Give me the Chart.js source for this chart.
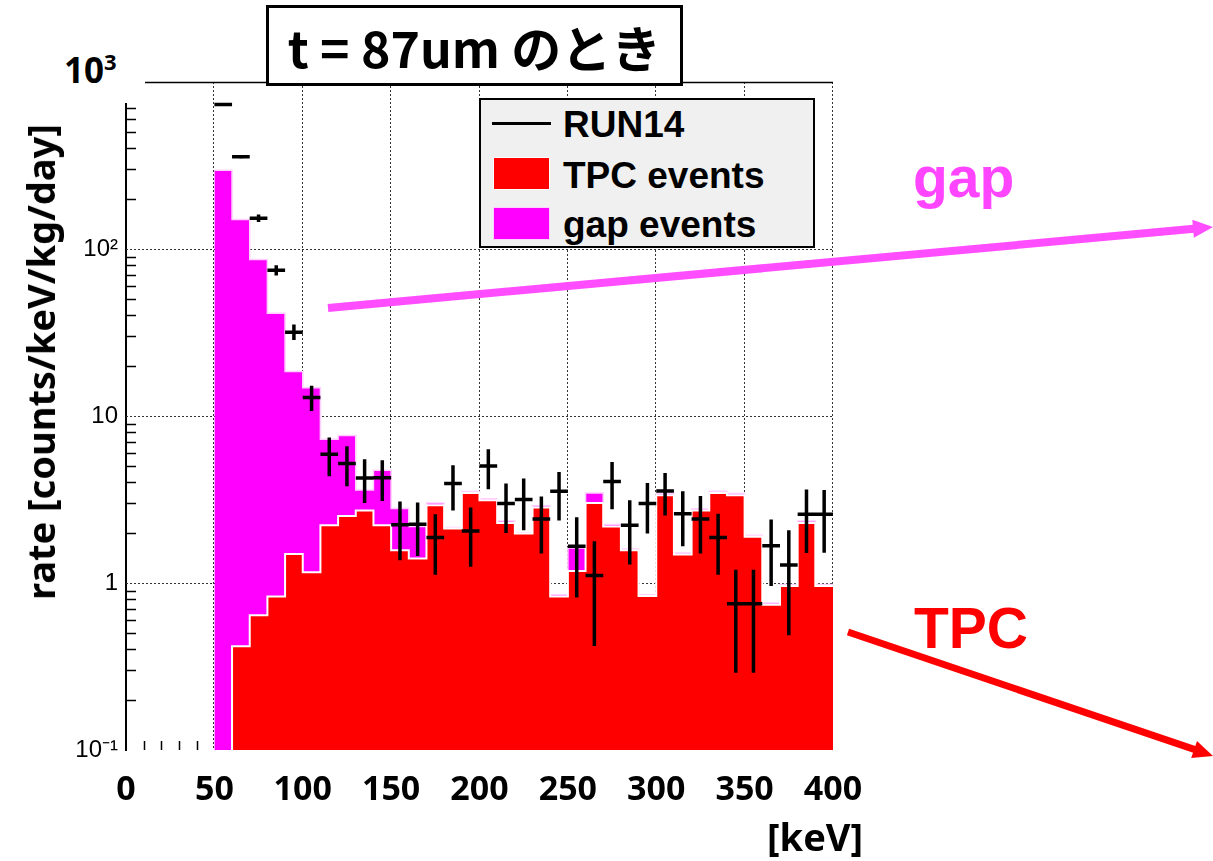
<!DOCTYPE html>
<html>
<head>
<meta charset="utf-8">
<script src="https://cdn.jsdelivr.net/npm/chart.js@4.4.1/dist/chart.umd.min.js"></script>
<style>
html,body{margin:0;padding:0;background:#fff;}
#wrap{position:relative;width:1213px;height:861px;overflow:hidden;background:#fff;}
#c{position:absolute;left:0;top:0;}
.t{position:absolute;white-space:nowrap;line-height:1;}
#title{position:absolute;left:266px;top:5px;width:417px;height:81px;box-sizing:border-box;border:3px solid #000;background:#fff;
  display:flex;align-items:center;justify-content:center;font-family:"Noto Sans CJK JP";font-weight:bold;font-size:50px;color:#000;white-space:nowrap;}
#ymaxbox{position:absolute;left:55px;top:44px;width:90px;height:59px;background:#fff;}
#ymax{left:64px;top:52px;font-family:"Noto Sans";font-weight:bold;font-size:35px;color:#000;}
#ymax sup{font-size:22px;vertical-align:0;position:relative;top:-13px;}
#legend{position:absolute;left:479px;top:98px;width:336px;height:150px;box-sizing:border-box;border:2px solid #000;background:#f0f0f0;}
.lt{position:absolute;left:563px;font-family:"Liberation Sans";font-weight:bold;font-size:37px;color:#000;white-space:nowrap;line-height:1;}
.sw{position:absolute;left:493px;width:57px;height:33px;box-sizing:border-box;}
#ytitle{position:absolute;left:40px;top:362px;transform:translate(-50%,-50%) rotate(-90deg);font-family:"Noto Sans";font-weight:bold;font-size:38px;color:#000;white-space:nowrap;line-height:1;}
#xunit{left:767px;top:817px;font-family:"Noto Sans";font-weight:bold;font-size:38px;color:#000;}
#gapLbl{left:913px;top:149px;font-family:"Liberation Sans";font-weight:bold;font-size:57px;color:#ff45ff;}
#tpcLbl{left:914px;top:600px;font-family:"Liberation Sans";font-weight:bold;font-size:57px;color:#ff0000;}
#arrows{position:absolute;left:0;top:0;}
</style>
</head>
<body>
<div id="wrap">
<canvas id="c" width="1213" height="861"></canvas>
<div id="ymaxbox"></div>
<div id="ymax" class="t">10<sup>3</sup></div>
<div id="title">t = 87um のとき</div>
<div id="legend"></div>
<div style="position:absolute;left:492px;top:121.5px;width:59px;height:3.5px;background:#000;"></div>
<div class="lt" style="top:106px;">RUN14</div>
<div class="sw" style="top:157px;background:#ff0000;border:1px solid #fff;"></div>
<div class="lt" style="top:157px;">TPC events</div>
<div class="sw" style="top:207px;background:#ff00ff;border:1px solid #ffd0ff;"></div>
<div class="lt" style="top:206px;">gap events</div>
<div id="ytitle">rate [counts/keV/kg/day]</div>
<div id="xunit" class="t">[keV]</div>
<div id="gapLbl" class="t">gap</div>
<div id="tpcLbl" class="t">TPC</div>
<svg id="arrows" width="1213" height="861">
  <line x1="328" y1="308" x2="1194" y2="228.8" stroke="#ff4dff" stroke-width="8"/>
  <polygon points="1213,227 1193.9,237.8 1192.3,219.8" fill="#ff4dff"/>
  <line x1="848" y1="632" x2="1195" y2="749.6" stroke="#ff0000" stroke-width="7"/>
  <polygon points="1213,756 1191.2,758.1 1197.0,741.1" fill="#ff0000"/>
</svg>
</div>
<script>
// ---------------- data ----------------
const BIN_LO = [50,60,70,80,90,100,110,120,130,140,150,160,170,180,190,200,210,220,230,240,
                250,260,270,280,290,300,310,320,330,340,350,360,370,380,390];
const BIN_WIDTH = 10;
// TPC events (red), counts/keV/kg/day; null = empty bin
const TPC = [null,0.418,0.641,0.83,1.49,1.16,2.22,2.52,2.72,2.22,
             1.57,1.40,2.92,2.12,3.46,3.13,2.29,1.98,2.83,0.83,
             1.18,3.01,2.18,1.57,0.836,3.35,1.48,2.72,3.46,3.35,
             1.89,0.74,0.96,2.29,0.96];
// gap events (magenta), stacked on top of TPC
const GAP = [296,149.6,85.9,40.4,17.0,13.6,5.03,5.13,0.88,2.51,
             1.22,0.78,0.09,0.03,0.07,0.06,0.06,0.02,0.07,0.02,
             0.44,0.45,0.06,0.03,0.014,0.08,0.03,0.05,0.08,0.08,
             0.04,0.02,0.02,0.06,0.02];
// RUN14 data points and error-bar bounds
const RUN14 = [733,357,153,74.5,31.7,12.9,5.9,5.19,4.25,4.27,
               2.23,2.25,1.87,3.94,2.05,5.02,2.99,3.16,2.42,3.54,
               1.66,1.11,4.06,2.22,2.99,3.56,2.6,2.42,1.87,0.75,
               0.75,1.67,1.28,2.58,2.58];
const RUN14_LO = [720,349,145,69.5,28.5,10.7,4.35,3.79,3.01,3.1,
                  1.37,1.45,1.12,2.72,1.25,3.64,1.99,2.07,1.5,2.37,
                  0.82,0.42,2.76,1.29,1.98,2.54,1.66,1.5,1.12,0.29,
                  0.29,0.96,0.486,1.51,1.52];
const RUN14_HI = [746,365,161,80,35.3,15.2,7.43,6.59,5.5,5.44,
                  3.08,3.03,2.58,5.07,2.83,6.32,3.94,4.22,3.3,4.62,
                  2.48,1.78,5.3,3.13,3.97,4.56,3.54,3.32,2.6,1.2,
                  1.2,2.4,2.07,3.63,3.6];
// axes
const X_TICKS = [0,50,100,150,200,250,300,350,400];
const X_MINOR = [10,20,30,40,60,70,80,90,110,120,130,140,160,170,180,190,210,220,230,240,
                 260,270,280,290,310,320,330,340,360,370,380,390];
const Y_DECADES = [0.1,1,10,100,1000];
const Y_LABELS = ['10\u207B\u00B9','1','10','10\u00B2','10\u00B3'];
const Y_MULT = [2,3,4,5,6,7,8,9];

// ---------------- layout constants ----------------
const W = 1213, H = 861;
const PLOT_LEFT = 126, PLOT_RIGHT = 833, PLOT_TOP = 82, PLOT_BOTTOM = 750;
const Y_MIN = Y_DECADES[0], Y_MAX = Y_DECADES[Y_DECADES.length-1];

// ---------------- derived series ----------------
function stepData(vals){
  const d = BIN_LO.map((x,i)=>({x:x, y:vals[i]}));
  d.push({x:BIN_LO[BIN_LO.length-1]+BIN_WIDTH, y:vals[vals.length-1]});
  let k = 0; while (k < vals.length && vals[k] == null) k++;
  if (k > 0) d.splice(0, k, {x:BIN_LO[k], y:Y_MIN});
  return d;
}
const TOTAL = GAP.map((g,i)=> g + (TPC[i] || 0));
const hBars = [], vBars = [];
BIN_LO.forEach((x,i)=>{
  hBars.push({x:x, y:RUN14[i]}, {x:x+BIN_WIDTH, y:RUN14[i]}, {x:x+BIN_WIDTH, y:null});
  const c = x + BIN_WIDTH/2;
  vBars.push({x:c, y:RUN14_LO[i]}, {x:c, y:RUN14_HI[i]}, {x:c, y:null});
});
const Y_TICK_VALUES = [];
Y_DECADES.forEach((d,i)=>{
  Y_TICK_VALUES.push(d);
  if (i < Y_DECADES.length-1) Y_MULT.forEach(m=>Y_TICK_VALUES.push(m*d));
});

const framePlugin = {
  id:'frame',
  beforeDatasetsDraw(chart){
    const {ctx, chartArea:a, scales:{x, y}} = chart;
    ctx.save();
    // dotted grid
    ctx.strokeStyle = '#333'; ctx.lineWidth = 1; ctx.setLineDash([2,2]);
    ctx.beginPath();
    X_TICKS.forEach(v=>{
      if (v === 0) return;
      const px = Math.round(x.getPixelForValue(v)) - 0.5;
      ctx.moveTo(px, a.top); ctx.lineTo(px, a.bottom);
    });
    Y_DECADES.forEach(v=>{
      if (v === Y_MIN || v === Y_MAX) return;
      const py = Math.round(y.getPixelForValue(v)) + 0.5;
      ctx.moveTo(a.left, py); ctx.lineTo(a.right, py);
    });
    ctx.stroke();
    ctx.setLineDash([]);
    // minor x ticks (inside, at the bottom)
    ctx.strokeStyle = '#000'; ctx.lineWidth = 1.5;
    ctx.beginPath();
    X_MINOR.forEach(v=>{ const px = Math.round(x.getPixelForValue(v))+0.5; ctx.moveTo(px, a.bottom); ctx.lineTo(px, a.bottom-9); });
    ctx.stroke();
    ctx.restore();
  },
  afterDraw(chart){
    const {ctx, chartArea:a, scales:{y}} = chart;
    ctx.save();
    ctx.strokeStyle = '#000'; ctx.lineWidth = 1.5;
    ctx.beginPath();
    Y_TICK_VALUES.forEach(v=>{
      if (Y_DECADES.includes(v)) return;
      const py = Math.round(y.getPixelForValue(v))+0.5;
      ctx.moveTo(a.left, py); ctx.lineTo(a.left+10, py);
    });
    ctx.moveTo(a.left, a.top+0.5); ctx.lineTo(a.right, a.top+0.5);
    ctx.stroke();
    ctx.restore();
  }
};

new Chart(document.getElementById('c'), {
  type:'line',
  data:{ datasets:[
    { label:'RUN14', data:hBars, borderColor:'#000', borderWidth:3.5, pointRadius:0, fill:false, spanGaps:false, borderCapStyle:'butt', order:0 },
    { label:'RUN14 errors', data:vBars, borderColor:'#000', borderWidth:3.5, pointRadius:0, fill:false, spanGaps:false, borderCapStyle:'butt', order:0 },
    { label:'TPC events', data:stepData(TPC), stepped:'before', borderColor:'#ffffff', borderWidth:2, backgroundColor:'#ff0000', fill:'start', pointRadius:0, order:1 },
    { label:'gap events', data:stepData(TOTAL), stepped:'before', borderColor:'#ffd0ff', borderWidth:1.5, backgroundColor:'#ff00ff', fill:'start', pointRadius:0, order:2 }
  ]},
  options:{
    responsive:false, animation:false, devicePixelRatio:1,
    layout:{ padding:{ left:0, top:PLOT_TOP, right:W-PLOT_RIGHT, bottom:0 } },
    plugins:{ legend:{display:false}, tooltip:{enabled:false}, title:{display:false} },
    scales:{
      x:{ type:'linear', min:0, max:400, offset:false,
        afterBuildTicks:(s)=>{ s.ticks = X_TICKS.map(v=>({value:v})); },
        afterFit:(s)=>{ s.height = H - PLOT_BOTTOM; },
        ticks:{ autoSkip:false, maxRotation:0, color:'#000', padding:20,
          font:{ family:'Noto Sans', weight:'bold', size:34 }, callback:(v)=>String(v) },
        grid:{ display:false, drawTicks:false },
        border:{ display:false }
      },
      y:{ type:'logarithmic', min:Y_MIN, max:Y_MAX,
        afterBuildTicks:(s)=>{ s.ticks = Y_TICK_VALUES.map(v=>({value:v, major:Y_DECADES.includes(v)})); },
        afterFit:(s)=>{ s.width = PLOT_LEFT; },
        ticks:{ autoSkip:false, color:'#000', padding:8,
          font:{ family:'Liberation Sans', size:24 },
          callback:(v)=>{ const i = Y_DECADES.indexOf(v); return (i >= 0 && v !== Y_MAX) ? Y_LABELS[i] : ''; } },
        grid:{ display:false, drawTicks:false },
        border:{ display:true, color:'#000', width:2 }
      }
    }
  },
  plugins:[framePlugin]
});
</script>
</body>
</html>
